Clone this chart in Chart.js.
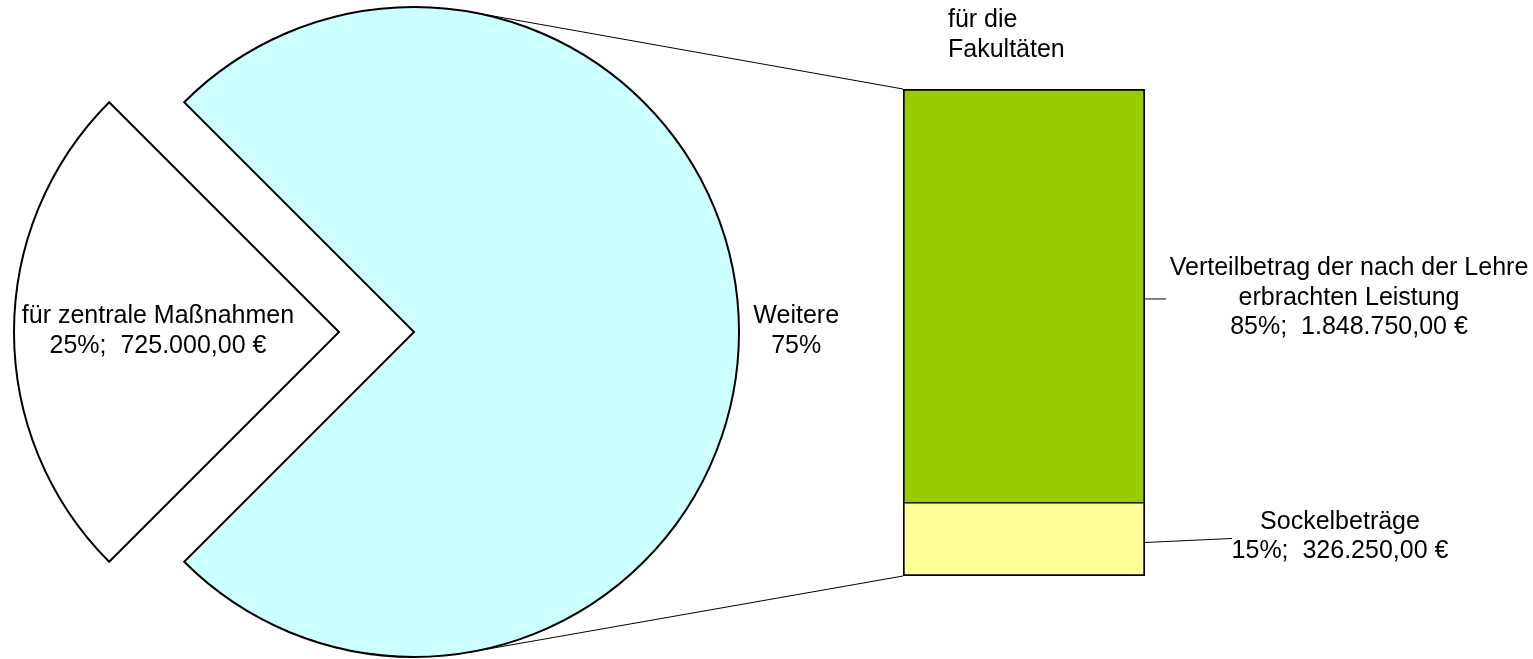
<!DOCTYPE html>
<html>
<head>
<meta charset="utf-8">
<script src="https://cdn.jsdelivr.net/npm/chart.js@4/dist/chart.umd.min.js"></script>
<style>
  html, body { margin: 0; padding: 0; background: #fff; overflow: hidden; }
  #wrap { position: relative; width: 1533px; height: 659px; }
  .box { position: absolute; left: 0; top: 0; }
</style>
</head>
<body>
<div id="wrap">
  <div class="box" style="width:828px;height:664px"><canvas id="pie"></canvas></div>
  <div class="box" style="width:1533px;height:659px"><canvas id="bar"></canvas></div>
</div>
<script>
// pie part
const pieLabels = ["Weitere", "für zentrale Maßnahmen"];
const piePercent = [75, 25];
const pieAmounts = [null, 725000];

// bar part (split of "Weitere")
const barTitle = ["für die", "Fakultäten"];
const barLabels = [["Sockelbeträge"], ["Verteilbetrag der nach der Lehre", "erbrachten Leistung"]];
const barPercent = [15, 85];
const barAmounts = [326250, 1848750];

const FONT = '25px "Liberation Sans", Arial, sans-serif';
const LINE = 29.5;

function euro(v) {
  let s = v.toFixed(2).split('.');
  let int = s[0].replace(/\B(?=(\d{3})+(?!\d))/g, '.');
  return int + ',' + s[1] + ' €';
}

function textLines(ctx, lines, x, y, align) {
  ctx.textAlign = align || 'center';
  const y0 = y - (lines.length - 1) * LINE / 2;
  lines.forEach((t, i) => ctx.fillText(t, x, y0 + i * LINE));
}

const pieChart = new Chart(document.getElementById("pie"), {
  type: 'pie',
  data: {
    labels: pieLabels,
    datasets: [{
      data: piePercent,
      backgroundColor: ["#CCFFFF", "#FFFFFF"],
      borderColor: "#000",
      borderWidth: 2,
      borderJoinStyle: 'miter',
      offset: [0, 300]
    }]
  },
  options: {
    responsive: true,
    maintainAspectRatio: false,
    animation: false,
    events: [],
    radius: 325,
    rotation: -45,
    layout: { padding: 0 },
    plugins: { legend: { display: false }, tooltip: { enabled: false } }
  }
});

// labels and connector lines, drawn over both charts
const annotate = {
  id: 'annotate',
  afterDraw(chart) {
    const ctx = chart.ctx;
    const arcs = pieChart.getDatasetMeta(0).data;
    const cx = arcs[0].x, cy = arcs[0].y, r = arcs[0].outerRadius;
    const low = chart.getDatasetMeta(0).data[0], high = chart.getDatasetMeta(1).data[0];
    const left = low.x - low.width / 2, right = low.x + low.width / 2;
    const top = high.y, bottom = low.base, split = low.y;

    ctx.save();
    ctx.strokeStyle = '#000';
    ctx.lineWidth = 1;

    // tangent lines from bar corners to the pie
    [[left, top, -1], [left, bottom, 1]].forEach(([px, py, s]) => {
      const dx = px - cx, dy = py - cy;
      const d = Math.hypot(dx, dy);
      const a = Math.atan2(dy, dx) + s * Math.acos(r / d);
      ctx.beginPath();
      ctx.moveTo(cx + r * Math.cos(a), cy + r * Math.sin(a));
      ctx.lineTo(px, py);
      ctx.stroke();
    });

    // leader lines
    ctx.beginPath();
    ctx.moveTo(right, (top + split) / 2 + 3);
    ctx.lineTo(right + 21, (top + split) / 2 + 3);
    ctx.moveTo(right, (split + bottom) / 2 + 3);
    ctx.lineTo(right + 87, (split + bottom) / 2 - 1);
    ctx.stroke();

    ctx.fillStyle = '#000';
    ctx.font = FONT;
    ctx.textBaseline = 'middle';

    // pie labels
    const small = arcs[1];
    const ma = (small.startAngle + small.endAngle) / 2;
    const off = 75;
    textLines(ctx, [pieLabels[1], piePercent[1] + '%;  ' + euro(pieAmounts[1])],
      cx + Math.cos(ma) * (off + r * 0.557), cy + Math.sin(ma) * (off + r * 0.557) - 1);
    const big = arcs[0];
    const mb = (big.startAngle + big.endAngle) / 2;
    textLines(ctx, [pieLabels[0], piePercent[0] + '%'],
      cx + Math.cos(mb) * r * 1.176, cy + Math.sin(mb) * r * 1.176 - 1);

    // bar labels
    textLines(ctx, barLabels[1].concat([barPercent[1] + '%;  ' + euro(barAmounts[1])]),
      right + 204, (top + split) / 2 + 2);
    textLines(ctx, barLabels[0].concat([barPercent[0] + '%;  ' + euro(barAmounts[0])]),
      right + 195, (split + bottom) / 2 - 3);
    textLines(ctx, barTitle, left + 45, top - 54, 'left');
    ctx.restore();
  }
};

new Chart(document.getElementById("bar"), {
  type: 'bar',
  data: {
    labels: [""],
    datasets: [
      {
        label: barLabels[0].join(' '),
        data: [barAmounts[0]],
        backgroundColor: "#FFFF99",
        borderColor: "#000",
        borderWidth: { top: 1, left: 2, right: 2, bottom: 2 },
        borderSkipped: false
      }, {
        label: barLabels[1].join(' '),
        data: [barAmounts[1]],
        backgroundColor: "#99CC00",
        borderColor: "#000",
        borderWidth: { top: 2, left: 2, right: 2, bottom: 1 },
        borderSkipped: false
      }
    ]
  },
  options: {
    responsive: true,
    maintainAspectRatio: false,
    animation: false,
    events: [],
    barPercentage: 1,
    categoryPercentage: 1,
    layout: { padding: { left: 903, right: 388, top: 89, bottom: 83 } },
    scales: {
      x: { display: false, stacked: true },
      y: { display: false, stacked: true, min: 0, max: barAmounts[0] + barAmounts[1] }
    },
    plugins: { legend: { display: false }, tooltip: { enabled: false } }
  },
  plugins: [annotate]
});
</script>
</body>
</html>
